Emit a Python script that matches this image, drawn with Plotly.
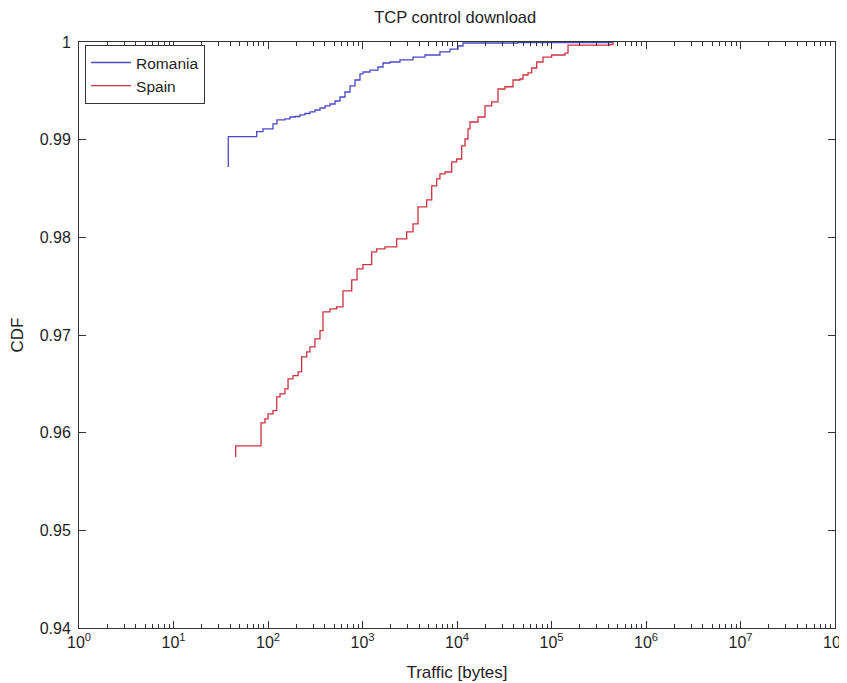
import plotly.graph_objects as go

# ---- data ----
romania_x = [38.0, 38.0, 75.9, 88.5, 113, 124.5, 151, 171, 193, 218, 246, 278, 314, 355, 401,
             453, 512, 578, 653, 738, 833, 941, 1012, 1200, 1458, 1648, 1954, 2493, 3423,
             4585, 6600, 8430, 10250, 11570, 44200, 447700]
romania_y = [0.98721, 0.99031, 0.99082, 0.99110, 0.99161, 0.99202, 0.99212, 0.99232, 0.99237,
             0.99253, 0.99268, 0.99284, 0.99304, 0.99324, 0.99345, 0.99365, 0.99396, 0.99437,
             0.99488, 0.99550, 0.99611, 0.99673, 0.99693, 0.99713, 0.99744, 0.99785, 0.99795,
             0.99816, 0.99846, 0.99867, 0.99898, 0.99928, 0.99959, 0.99990, 0.99995, 1.0]

spain_x = [45.5, 45.5, 84.3, 92.9, 100, 113, 123.7, 134, 151, 163, 184, 208, 227, 227, 257, 278,
           314, 355, 382, 453, 533, 622, 769, 875, 1012, 1251, 1413, 1730, 2300, 2937, 3423,
           3867, 4779, 5400, 6100, 6600, 7465, 8790, 9930, 11220, 12160, 13070, 13730, 16680,
           19780, 23280, 27150, 32210, 39150, 46440, 49930, 56380, 61700, 69700, 81280,
           100500, 138900, 149600, 415700, 447700]
spain_y = [0.95752, 0.95865, 0.96100, 0.96141, 0.96192, 0.96226, 0.96366, 0.96397, 0.96448,
           0.96551, 0.96584, 0.96622, 0.96673, 0.96776, 0.96827, 0.96878, 0.96960, 0.97045,
           0.97236, 0.97267, 0.97288, 0.97451, 0.97564, 0.97677, 0.97721, 0.97851, 0.97881,
           0.97902, 0.97984, 0.98055, 0.98137, 0.98311, 0.98383, 0.98526, 0.98598, 0.98649,
           0.98669, 0.98772, 0.98802, 0.98936, 0.99007, 0.99110, 0.99181, 0.99232, 0.99345,
           0.99386, 0.99519, 0.99542, 0.99611, 0.99621, 0.99662, 0.99683, 0.99734, 0.99795,
           0.99846, 0.99867, 0.99887, 0.99969, 0.99974, 1.0]

x_tickvals = [1, 10, 100, 1e3, 1e4, 1e5, 1e6, 1e7, 1e8]
x_ticktext = ["10<sup>%d</sup>" % k for k in range(9)]
x_minor = [m * 10 ** k for k in range(8) for m in range(2, 10)]
y_tickvals = [0.94, 0.95, 0.96, 0.97, 0.98, 0.99, 1.0]
y_ticktext = ["0.94", "0.95", "0.96", "0.97", "0.98", "0.99", "1"]

FONT = "Liberation Sans, Arial, sans-serif"
TXT = "#1e1e1e"

fig = go.Figure()
fig.add_trace(go.Scatter(x=romania_x, y=romania_y, mode="lines", name="Romania",
                         line=dict(color="#4848c8", width=1.3, shape="hv")))
fig.add_trace(go.Scatter(x=spain_x, y=spain_y, mode="lines", name="Spain",
                         line=dict(color="#cc3340", width=1.3, shape="hv")))

axis_common = dict(showgrid=False, zeroline=False, showline=True, linecolor="#333333",
                   linewidth=1, mirror="ticks", ticks="inside", ticklen=7,
                   tickcolor="#333333", automargin=False, ticklabeloverflow="allow",
                   tickfont=dict(family=FONT, size=16, color=TXT))

fig.update_xaxes(type="log", range=[0, 8], tickmode="array", tickvals=x_tickvals,
                 ticktext=x_ticktext,
                 minor=dict(tickmode="array", tickvals=x_minor, ticks="inside",
                            ticklen=4, tickcolor="#333333"),
                 title=dict(text="Traffic [bytes]", font=dict(family=FONT, size=17, color=TXT)),
                 **axis_common)
fig.update_yaxes(range=[0.94, 1.0], tickmode="array", tickvals=y_tickvals,
                 ticktext=y_ticktext, ticklabelstandoff=4,
                 title=dict(text="CDF", font=dict(family=FONT, size=17, color=TXT)),
                 **axis_common)

# the page body has an 8px margin, so the figure is sized/offset to compensate
fig.update_layout(
    width=839, height=675,
    margin=dict(l=71, r=12, t=34, b=55),
    paper_bgcolor="white", plot_bgcolor="white",
    title=dict(text="TCP control download", x=0.533, xanchor="center", y=0.987, yanchor="middle",
               font=dict(family=FONT, size=16.5, color=TXT)),
    legend=dict(x=0.008, y=0.995, xanchor="left", yanchor="top",
                bordercolor="#333333", borderwidth=1, bgcolor="white",
                font=dict(family=FONT, size=15.5, color=TXT),
                tracegroupgap=0, itemwidth=40),
    showlegend=True,
)

fig.write_html("out.html")
